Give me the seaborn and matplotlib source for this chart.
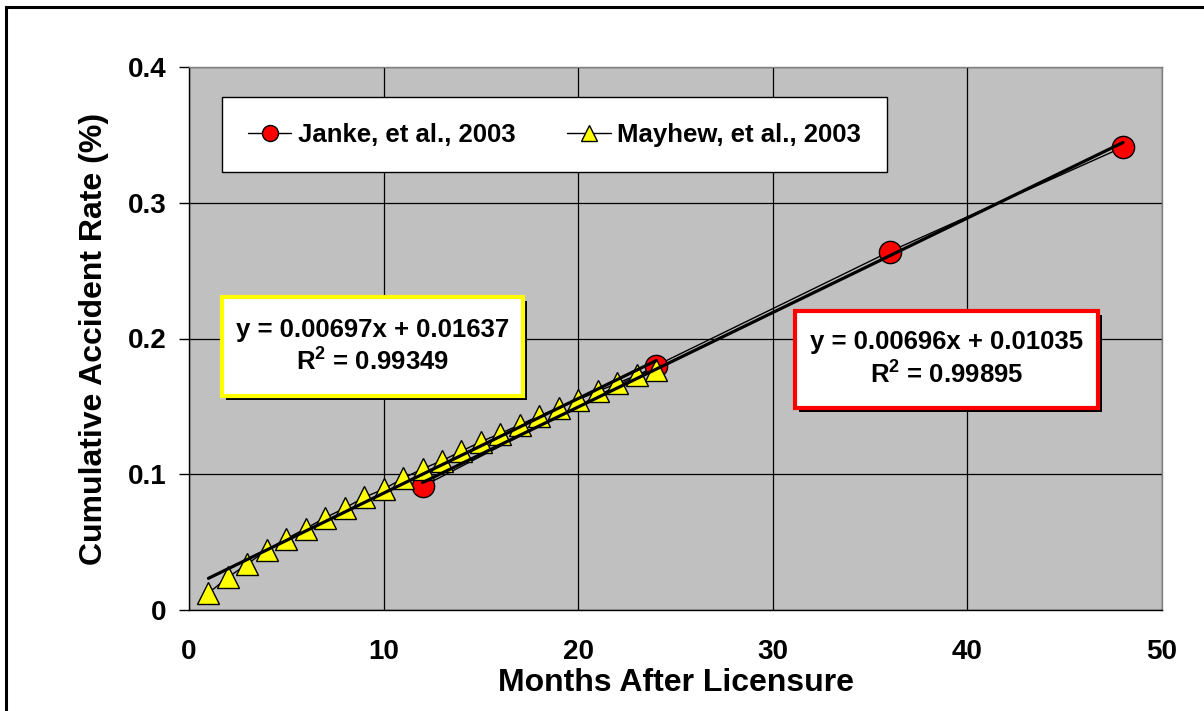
import numpy as np
import pandas as pd
import seaborn as sns
import matplotlib.pyplot as plt
from matplotlib.patches import Rectangle

# data
janke_months = [12, 24, 36, 48]
janke_rate = [0.091, 0.180, 0.264, 0.341]

mayhew_months = list(range(1, 25))
mayhew_rate = [0.0125, 0.024, 0.034, 0.044, 0.0525, 0.060, 0.068, 0.075,
               0.083, 0.089, 0.097, 0.104, 0.110, 0.117, 0.124, 0.130,
               0.1365, 0.143, 0.149, 0.155, 0.161, 0.167, 0.173, 0.177]

# linear trendlines shown on the chart
mayhew_fit = (0.00697, 0.01637, 0.99349)
janke_fit = (0.00696, 0.01035, 0.99895)

x_ticks = [0, 10, 20, 30, 40, 50]
y_ticks = [0, 0.1, 0.2, 0.3, 0.4]
y_tick_labels = ['0', '0.1', '0.2', '0.3', '0.4']

sns.set_style("white")
plt.rcParams['font.family'] = ['Liberation Sans', 'DejaVu Sans']
plt.rcParams['font.weight'] = 'bold'
plt.rcParams['text.color'] = 'black'
plt.rcParams['axes.labelcolor'] = 'black'
plt.rcParams['xtick.color'] = 'black'
plt.rcParams['ytick.color'] = 'black'
plt.rcParams['mathtext.fontset'] = 'custom'
plt.rcParams['mathtext.bf'] = 'Liberation Sans:bold'
plt.rcParams['mathtext.rm'] = 'Liberation Sans:bold'
plt.rcParams['mathtext.default'] = 'bf'

fig = plt.figure(figsize=(12.04, 7.11), dpi=100)
ax = fig.add_axes([189 / 1204, 101 / 711, 973 / 1204, 543 / 711])
ax.set_facecolor('#C0C0C0')

janke = pd.DataFrame({'month': janke_months, 'rate': janke_rate})
mayhew = pd.DataFrame({'month': mayhew_months, 'rate': mayhew_rate})

sns.lineplot(data=janke, x='month', y='rate', ax=ax, color='black', linewidth=1,
             marker='o', markersize=16, markerfacecolor='red',
             markeredgecolor='black', markeredgewidth=1,
             label='Janke, et al., 2003', zorder=3)
sns.lineplot(data=mayhew, x='month', y='rate', ax=ax, color='black', linewidth=1,
             marker='^', markersize=16.5, markerfacecolor='yellow',
             markeredgecolor='black', markeredgewidth=1,
             label='Mayhew, et al., 2003', zorder=3)

# trendlines over the data range
for months, (m, b, r2) in [(mayhew_months, mayhew_fit), (janke_months, janke_fit)]:
    xs = np.array([min(months), max(months)])
    ax.plot(xs, m * xs + b, color='black', linewidth=2.3, zorder=4)

ax.set_xlim(0, 50)
ax.set_ylim(0, 0.4)
ax.set_xticks(x_ticks)
ax.set_yticks(y_ticks)
ax.set_yticklabels(y_tick_labels)
ax.grid(True, color='black', linewidth=0.9)
ax.set_axisbelow(True)
ax.tick_params(axis='both', labelsize=20, length=7, width=1, direction='out')
ax.tick_params(axis='y', pad=9, left=True)
ax.tick_params(axis='x', pad=14, bottom=False)
for lab in ax.get_xticklabels() + ax.get_yticklabels():
    lab.set_fontweight('bold')

for side in ['top', 'right']:
    ax.spines[side].set_color('#808080')
for side in ['left', 'bottom']:
    ax.spines[side].set_color('black')
for s in ax.spines.values():
    s.set_linewidth(1)

ax.set_xlabel('Months After Licensure', fontsize=23, fontweight='bold', labelpad=2)
ax.set_ylabel('Cumulative Accident Rate (%)', fontsize=23, fontweight='bold', labelpad=14)

leg = ax.legend(loc='upper left', bbox_to_anchor=(0.034, 0.945), ncol=2,
                frameon=True, fancybox=False, edgecolor='black', framealpha=1,
                prop={'size': 18.5, 'weight': 'bold'}, handlelength=1.7,
                handletextpad=0.25, columnspacing=2.0, borderpad=1.0,
                borderaxespad=0, markerscale=0.72)
leg.get_frame().set_linewidth(1)

# equation boxes with shadows
def eq_box(x0, y0, w, h, edge, fit):
    m, b, r2 = fit
    ax.add_patch(Rectangle((x0 + 0.004, y0 - 0.007), w, h, transform=ax.transAxes,
                           facecolor='black', edgecolor='none', zorder=5))
    ax.add_patch(Rectangle((x0, y0), w, h, transform=ax.transAxes,
                           facecolor='white', edgecolor=edge, linewidth=3, zorder=6))
    ax.text(x0 + w / 2, y0 + h / 2,
            f'y = {m:.5f}x + {b:.5f}\nR$^2$ = {r2:.5f}',
            transform=ax.transAxes, ha='center', va='center', fontsize=18.5,
            fontweight='bold', linespacing=1.3, zorder=7)

eq_box(0.034, 0.394, 0.309, 0.182, 'yellow', mayhew_fit)
eq_box(0.623, 0.372, 0.311, 0.179, 'red', janke_fit)

# outer frame of the figure
fig.patches.append(Rectangle((6 / 1204, -0.1), 1.1, (711 - 7) / 711 + 0.1,
                             transform=fig.transFigure, fill=False,
                             edgecolor='black', linewidth=2.2))

fig.savefig('out.png', dpi=100)
